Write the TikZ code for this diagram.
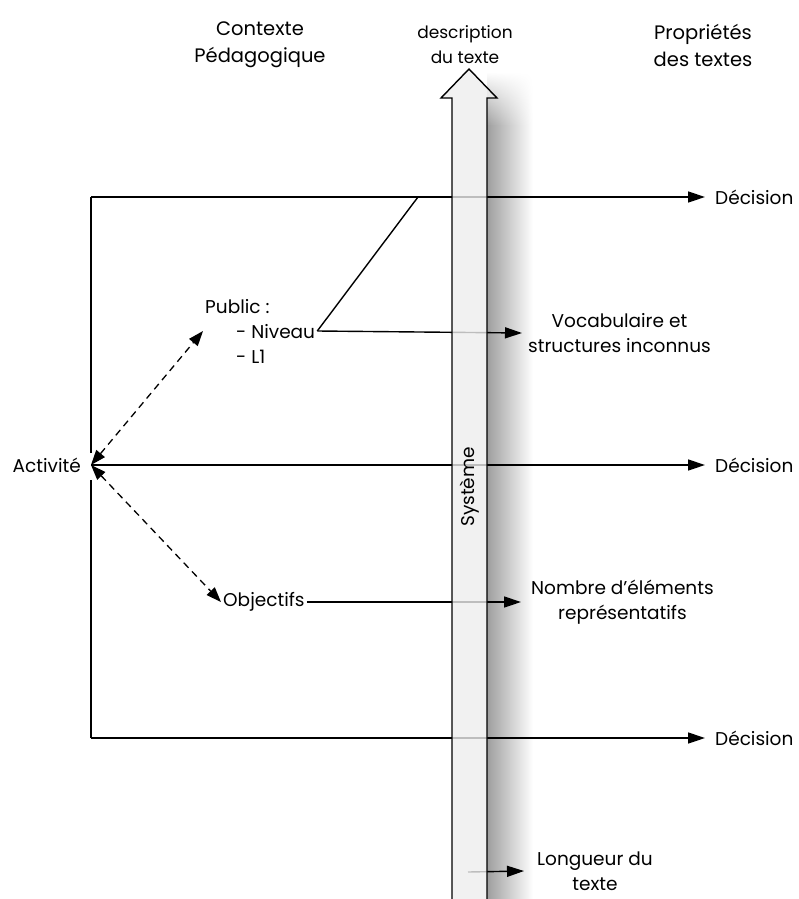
\documentclass[tikz,border=0pt]{standalone}
\usepackage{fontspec}
\setmainfont{Poppins}
\usetikzlibrary{arrows.meta,fadings}
\tikzfading[name=fadetop, top color=transparent!100, bottom color=transparent!0]
\begin{document}
\begin{tikzpicture}[x=1pt,y=-1pt,
  lab/.style={font=\fontsize{18.5}{25}\selectfont, align=center, inner sep=1pt},
  sml/.style={font=\fontsize{17}{25}\selectfont, align=center, inner sep=1pt},
  ttl/.style={font=\fontsize{19.5}{27}\selectfont, align=center, inner sep=0pt},
  ln/.style={line width=1.4pt},
  arr/.style={ln, -{Triangle[length=17pt,width=11pt]}},
  darr/.style={line width=1.3pt, dash pattern=on 7pt off 5pt,
     {Triangle[length=15pt,width=11pt]}-{Triangle[length=15pt,width=11pt]}},
  shaft/.style={draw=black, line width=1.4pt, fill=black!7, fill opacity=0.8}]
\useasboundingbox (0,0) rectangle (798,899);

% shadow of the big arrow
\shade[left color=black!38, right color=white] (487,125) rectangle (533,899);
\shade[left color=black!38, right color=white, path fading=fadetop] (487,72) rectangle (533,125.5);

% titles
\node[ttl] (ctx) at (260,45) {Contexte\\Pédagogique};
\node[ttl] (prop) at (703,45) {Propriétés\\des textes};
\node[sml] (desc) at (465,45) {description\\du texte};

% nodes
\node[lab, anchor=east, inner xsep=10pt] (act) at (91,465) {Activité};
\node[lab, anchor=west, align=left, inner sep=2pt] (pub) at (203,331)
  {Public :\\\hspace*{31pt}- Niveau\\\hspace*{31pt}- L1};
\node[lab, anchor=west, inner sep=2pt] (obj) at (221,602) {Objectifs};
\node[lab, anchor=west, inner xsep=6pt] (voc) at (522,333) {Vocabulaire et\\structures inconnus};
\node[lab, anchor=west, inner xsep=10pt] (nbr) at (521,602) {Nombre d'éléments\\représentatifs};
\node[lab, anchor=west, inner xsep=13pt] (lng) at (524,871) {Longueur du\\texte};
\node[lab, anchor=west, inner xsep=10pt] (dec1) at (705,197) {Décision};
\node[lab, anchor=west, inner xsep=10pt] (dec2) at (705,465) {Décision};
\node[lab, anchor=west, inner xsep=10pt] (dec3) at (705,738) {Décision};

% coordinates
\coordinate (tl) at (91,197);
\coordinate (bl) at (91,738);
\coordinate (gapt) at (91,453);
\coordinate (gapb) at (91,480);
\coordinate (diagtop) at (418,197);
\coordinate (lstart) at (468,872);

% connectors
\draw[ln] (gapt) -- (tl);
\draw[ln] (gapb) -- (bl);
\draw[arr] (tl) -- (dec1.west);
\draw[arr] (bl) -- (dec3.west);
\draw[arr] (act.east) -- (dec2.west);
\draw[darr] (act.east) -- (pub.west);
\draw[darr] (act.east) -- (obj.west);
\draw[ln] (diagtop) -- (pub.east);
\draw[arr] (pub.east) -- (voc.west);
\draw[arr] (obj.east) -- (nbr.west);
\draw[arr] (lstart) -- (lng.west);

% big arrow
\path[shaft] (452,910) -- (452,98) -- (441,98) -- (469,69) -- (497,98) -- (487,98) -- (487,910);
\node[lab, rotate=90] (sys) at (470,487) {Système};
\end{tikzpicture}
\end{document}
